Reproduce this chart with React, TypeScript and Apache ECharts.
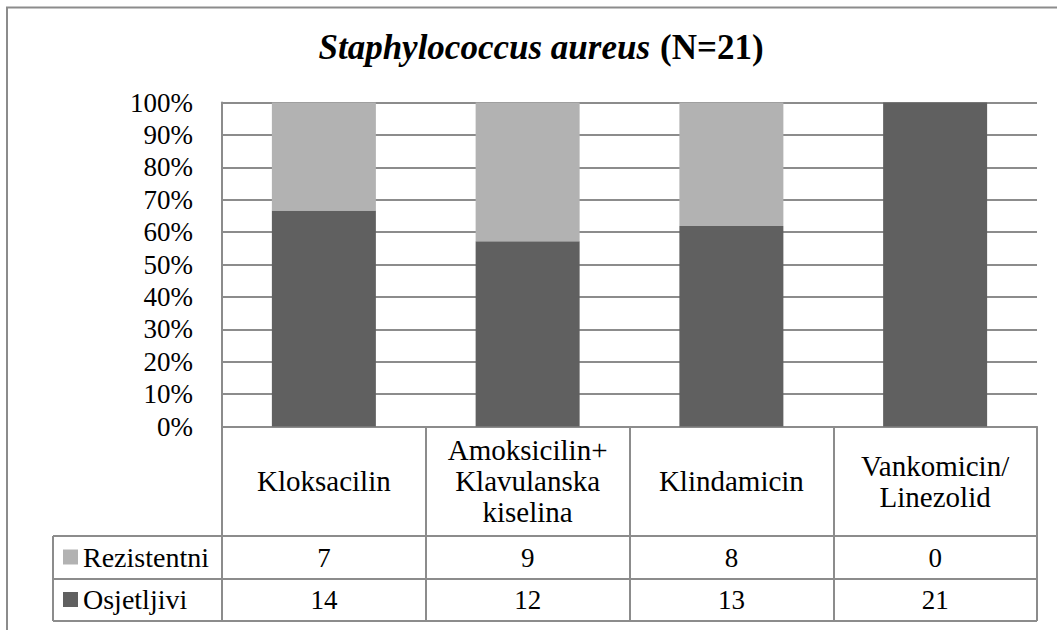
import React, { useEffect, useRef } from "react";
import * as echarts from "echarts";

const categories = [
  "Kloksacilin",
  "Amoksicilin+\nKlavulanska\nkiselina",
  "Klindamicin",
  "Vankomicin/\nLinezolid",
];
const rezistentni = [7, 9, 8, 0];
const osjetljivi = [14, 12, 13, 21];
const seriesNames = ["Rezistentni", "Osjetljivi"];
const titleItalic = "Staphylococcus aureus";
const titleBold = "(N=21)";

const FONT = "Liberation Serif";
const LINE = "#8c8c8c";
const DARK = "#606060";
const LIGHT = "#b2b2b2";

// layout (pixels)
const W = 1057;
const H = 630;
const PLOT_L = 222;
const PLOT_R = 1037;
const PLOT_T = 102.5;
const PLOT_B = 426.5;
const ROW1 = 536;
const ROW2 = 579;
const ROW3 = 621;
const TABLE_L = 53;

export default function App() {
  const ref = useRef<HTMLDivElement>(null);
  useEffect(() => {
    if (!ref.current) return;
    const chart = echarts.init(ref.current, undefined, { renderer: "svg" });
    const totals = rezistentni.map((r, i) => r + osjetljivi[i]);
    const pctR = rezistentni.map((v, i) => (v / totals[i]) * 100);
    const pctO = osjetljivi.map((v, i) => (v / totals[i]) * 100);
    const txt = { fontFamily: FONT, fontSize: 27, color: "#000" };
    const hline = (y: number) => ({
      type: "line",
      shape: { x1: TABLE_L, y1: y, x2: PLOT_R, y2: y },
      style: { stroke: LINE, lineWidth: 2 },
    });
    chart.setOption({
      animation: false,
      backgroundColor: "#fff",
      title: {
        text: `{i|${titleItalic}} {b|${titleBold}}`,
        left: 536,
        textAlign: "center",
        top: 25,
        textStyle: {
          rich: {
            i: { fontFamily: FONT, fontSize: 35, fontStyle: "italic", fontWeight: "bold", color: "#000" },
            b: { fontFamily: FONT, fontSize: 35, fontWeight: "bold", color: "#000", padding: [0, 0, 0, 5] },
          },
        },
      },
      legend: {
        orient: "vertical",
        left: 63,
        top: 543,
        padding: 0,
        data: seriesNames,
        itemWidth: 15,
        itemHeight: 15,
        itemGap: 14.5,
        icon: "rect",
        textStyle: { ...txt, fontSize: 28, lineHeight: 28 },
      },
      grid: {
        left: PLOT_L,
        right: W - PLOT_R,
        top: PLOT_T,
        bottom: H - PLOT_B,
      },
      xAxis: [
        {
          type: "category",
          data: categories,
          axisLine: { show: true, lineStyle: { color: LINE, width: 2 } },
          axisTick: {
            show: true,
            interval: 0,
            length: ROW3 - PLOT_B,
            lineStyle: { color: LINE, width: 2 },
          },
          axisLabel: {
            ...txt,
            fontSize: 29,
            interval: 0,
            margin: 54.5,
            verticalAlign: "middle",
            lineHeight: 31,
            align: "center",
          },
        },
        {
          type: "category",
          data: rezistentni.map(String),
          position: "bottom",
          axisLine: { show: false },
          axisTick: { show: false },
          axisLabel: { ...txt, interval: 0, margin: (ROW1 + ROW2) / 2 - PLOT_B, verticalAlign: "middle" },
        },
        {
          type: "category",
          data: osjetljivi.map(String),
          position: "bottom",
          axisLine: { show: false },
          axisTick: { show: false },
          axisLabel: { ...txt, interval: 0, margin: (ROW2 + ROW3) / 2 - PLOT_B, verticalAlign: "middle" },
        },
      ],
      yAxis: {
        type: "value",
        min: 0,
        max: 100,
        interval: 10,
        axisLine: { show: true, lineStyle: { color: LINE, width: 2 } },
        axisTick: { show: false },
        axisLabel: { ...txt, margin: 29, formatter: "{value}%" },
        splitLine: { show: true, lineStyle: { color: LINE, width: 2 } },
      },
      series: [
        {
          name: seriesNames[1],
          type: "bar",
          stack: "all",
          barWidth: 104,
          data: pctO,
          itemStyle: { color: DARK },
        },
        {
          name: seriesNames[0],
          type: "bar",
          stack: "all",
          barWidth: 104,
          data: pctR,
          itemStyle: { color: LIGHT },
        },
      ],
      graphic: [
        {
          type: "rect",
          shape: { x: 7, y: 7.5, width: 1200, height: 800 },
          style: { fill: "none", stroke: LINE, lineWidth: 2 },
          silent: true,
        },
        hline(ROW1),
        hline(ROW2),
        hline(ROW3),
        {
          type: "line",
          shape: { x1: TABLE_L, y1: ROW1, x2: TABLE_L, y2: ROW3 },
          style: { stroke: LINE, lineWidth: 2 },
        },
      ],
    });
    return () => chart.dispose();
  }, []);
  return (
    <div
      ref={ref}
      style={{ position: "fixed", left: 0, top: 0, width: W, height: H }}
    />
  );
}
